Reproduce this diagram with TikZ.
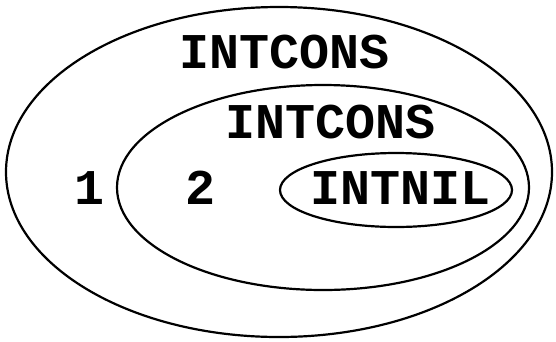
\documentclass[tikz,border=0pt]{standalone}
\usepackage{fontspec}
\setmonofont{Liberation Mono}
\usetikzlibrary{shapes.geometric}

\begin{document}
\begin{tikzpicture}[
  x=1pt,y=-1pt,
  set/.style={draw,ellipse,line width=2.2pt,inner sep=0pt},
  lbl/.style={font=\ttfamily\bfseries\fontsize{50}{50}\selectfont,inner sep=0pt}
]
\useasboundingbox (0,0) rectangle (556,341);
% nested sets
\node[set,minimum width=546pt,minimum height=330pt] (outer) at (279,172) {};
\node[set,minimum width=412pt,minimum height=205pt] (middle) at (323,187.5) {};
\node[set,minimum width=232pt,minimum height=74pt] (inner) at (396,190) {};
% labels
\node[lbl] (cons1) at (285,52) {INTCONS};
\node[lbl] (cons2) at (331,122) {INTCONS};
\node[lbl] (one) at (90,188) {1};
\node[lbl] (two) at (200,188) {2};
\node[lbl] (nil) at (401,188) {INTNIL};
\end{tikzpicture}
\end{document}
